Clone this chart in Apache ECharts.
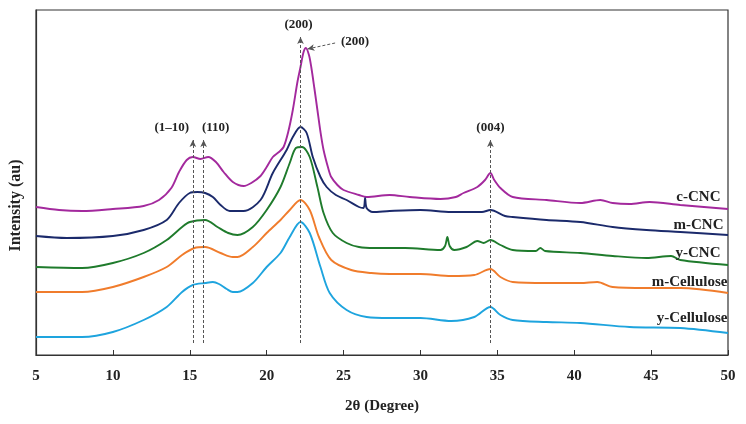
<!DOCTYPE html>
<html>
<head>
<meta charset="utf-8">
<script src="https://cdn.jsdelivr.net/npm/echarts@6/dist/echarts.min.js"></script>
<style>
  html, body { margin: 0; padding: 0; background: #fff; }
  #chart { width: 746px; height: 424px; }
</style>
</head>
<body>
<div id="chart"></div>
<script>
// 2θ axis
const xMin = 5, xMax = 50, xStep = 5;

// curves, [2θ, intensity] (offset stack, arbitrary units)
const cCNC = [[5,148],[6.5,145],[8,144],[10,146],[12,149],[13,155],[13.8,167],[14.3,183],[14.8,195],[15.2,198],[15.7,196],[16.2,198],[16.7,193],[17.2,183],[17.8,173],[18.5,169],[19,172],[19.6,179],[20,188],[20.4,198],[20.8,203],[21.1,208],[21.4,223],[21.7,245],[22,273],[22.2,288],[22.4,303],[22.55,307],[22.75,300],[22.9,288],[23.1,267],[23.3,245],[23.5,223],[23.7,205],[24,187],[24.2,178],[24.6,170],[25,165],[26,160],[26.5,158],[28,160],[29.3,158],[31.3,156],[32.3,158],[32.8,162],[33.7,168],[34.2,175],[34.55,182],[34.8,175],[35.2,167],[36,158],[38.2,155],[40.4,152],[41.7,155],[42.5,152],[43.6,151],[44.9,153],[46.9,150],[50,146]];
const mCNC = [[5,119],[7,117],[10,119],[12,125],[13.5,135],[14.3,152],[15,162],[15.5,163],[16,162],[16.5,158],[17,150],[17.6,144],[18.5,144],[19.6,155],[20.4,182],[21.3,205],[21.7,218],[22.2,228],[22.6,222],[23,198],[23.5,178],[23.9,168],[24.5,160],[25.2,155],[26,148],[26.3,147],[26.4,157],[26.5,147],[26.9,143],[28,144],[30,145],[32,143],[34,143],[34.55,145],[35.5,139],[36,138],[38.2,135],[40.4,133],[42.5,128],[44.7,125],[46.9,123],[50,120]];
const yCNC = [[5,88],[8,87],[10,92],[12,102],[13.5,115],[14.5,128],[15,133],[16,135],[16.8,128],[17.5,122],[18.1,120],[19.1,128],[20,145],[20.9,168],[21.5,192],[21.9,207],[22.3,208],[22.8,198],[23.3,168],[23.7,142],[24.3,122],[25.2,112],[26,108],[27,107],[29,107],[31.3,105],[31.6,109],[31.75,118],[31.9,109],[32.2,105],[33,108],[33.7,114],[34.1,112],[34.55,115],[35.2,110],[36,105],[37.5,104],[37.8,107],[38.1,104],[40.4,102],[42.5,99],[44.7,97],[46.3,99],[46.9,95],[50,90]];
const mCellulose = [[5,63],[8,63],[10,68],[12,78],[13.5,88],[14.5,100],[15.3,107],[16,108],[17,102],[17.8,98],[18.1,98],[19.1,108],[20,122],[20.9,135],[21.5,145],[22.2,155],[22.8,145],[23.4,118],[24.2,95],[25.5,85],[26.8,82],[28,81],[30,81],[32,79],[33.5,80],[34.55,86],[35.2,78],[36,73],[38.2,72],[40.4,72],[41.5,73],[42.5,68],[44.7,67],[46.9,67],[50,62]];
const yCellulose = [[5,18],[8,18],[10,23],[12,35],[13.5,48],[14.5,63],[15.2,70],[16,72],[16.5,73],[16.9,71],[17.4,66],[17.8,63],[18.1,63],[19.1,72],[20,88],[20.9,102],[21.5,118],[22.2,133],[22.8,122],[23.5,88],[24.1,62],[25.2,45],[26.5,38],[28,37],[30,37],[32,34],[33.5,38],[34.55,48],[35.2,40],[36,35],[38.2,33],[40.4,32],[43.6,28],[46.9,27],[50,22]];

const seriesNames = ['c-CNC', 'm-CNC', 'y-CNC', 'm-Cellulose', 'y-Cellulose'];
const seriesData = [cCNC, mCNC, yCNC, mCellulose, yCellulose];

// peak markers: label, 2θ, arrow top
const peakLabels = ['(1\u201310)', '(110)', '(200)', '(004)'];
const peakX = [15.2, 15.9, 22.2, 34.55];
const peakTop = [215, 215, 318, 215];
const peakBase = 12;
// side arrow pointing at c-CNC (200) peak
const sideArrow = [[24.45, 312], [22.65, 306]];

const colors = ['#a3299d', '#1b2a6b', '#1f7b2c', '#f07c2c', '#1ea4de'];
const labelOffsets = [[-7, -12], [-4, -10], [-7, -12], [0, -11], [0, -15]];
const peakLabelOffsets = [[-21, 0], [12, 0], [-2, 0], [0, 0]];

const serif = 'Liberation Serif';
const chart = echarts.init(document.getElementById('chart'));

const lines = seriesData.map((d, i) => ({
  name: seriesNames[i],
  type: 'line',
  data: d,
  smooth: 0.3,
  showSymbol: false,
  lineStyle: { color: colors[i], width: 1.9 },
  itemStyle: { color: colors[i] },
  markPoint: {
    symbol: 'circle',
    symbolSize: 1,
    itemStyle: { color: 'rgba(0,0,0,0)' },
    label: {
      show: true,
      position: 'left',
      distance: 0,
      offset: labelOffsets[i],
      formatter: seriesNames[i],
      fontFamily: serif,
      fontWeight: 'bold',
      fontSize: 15,
      color: '#222'
    },
    data: [{ coord: d[d.length - 1] }]
  }
}));

const markData = peakX.map((x, i) => [
  { coord: [x, peakBase], symbol: 'none' },
  {
    coord: [x, peakTop[i]],
    symbol: 'arrow',
    label: { formatter: peakLabels[i], offset: peakLabelOffsets[i] }
  }
]);
markData.push([
  { coord: sideArrow[0], symbol: 'none', label: { show: true, position: 'start', formatter: '(200)' } },
  { coord: sideArrow[1], symbol: 'arrow', label: { show: false } }
]);

lines.push({
  type: 'line',
  data: [],
  z: 10,
  markLine: {
    silent: true,
    symbolSize: [5, 7],
    lineStyle: { color: '#555', width: 1, type: [3, 2] },
    label: {
      show: true,
      position: 'end',
      distance: 6,
      fontFamily: serif,
      fontWeight: 'bold',
      fontSize: 13,
      color: '#222'
    },
    data: markData
  }
});

chart.setOption({
  animation: false,
  grid: { left: 36, right: 18, top: 10, bottom: 69, show: true, borderColor: '#333', borderWidth: 1.2 },
  xAxis: {
    type: 'value',
    min: xMin,
    max: xMax,
    interval: xStep,
    name: '2\u03b8 (Degree)',
    nameLocation: 'middle',
    nameGap: 44,
    nameTextStyle: { fontFamily: serif, fontWeight: 'bold', fontSize: 15, color: '#222' },
    axisLine: { show: true, lineStyle: { color: '#333', width: 1.2 } },
    axisTick: { show: true, inside: true, length: 5, lineStyle: { color: '#333' } },
    axisLabel: { margin: 14, fontFamily: serif, fontWeight: 'bold', fontSize: 15, color: '#222' },
    splitLine: { show: false }
  },
  yAxis: {
    type: 'value',
    min: 0,
    max: 345,
    name: 'Intensity (au)',
    nameLocation: 'middle',
    nameGap: 12,
    nameRotate: 90,
    nameTextStyle: { fontFamily: serif, fontWeight: 'bold', fontSize: 16, color: '#222', padding: [0, 46, 0, 0] },
    axisLine: { show: true, lineStyle: { color: '#333', width: 1.2 } },
    axisTick: { show: false },
    axisLabel: { show: false },
    splitLine: { show: false }
  },
  series: lines
});
</script>
</body>
</html>
